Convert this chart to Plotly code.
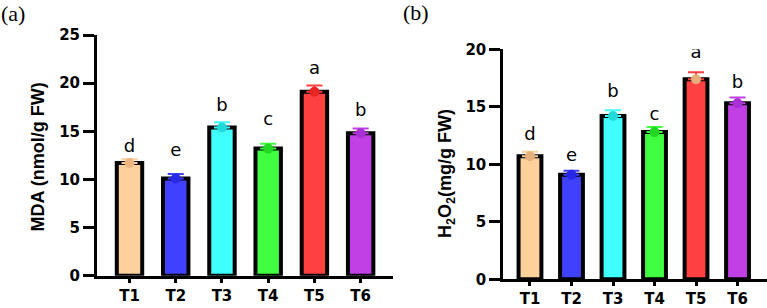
import plotly.graph_objects as go

W, H = 767, 308

categories = ["T1", "T2", "T3", "T4", "T5", "T6"]

mda_values = [11.7, 10.1, 15.4, 13.2, 19.1, 14.8]
mda_errors = [0.4, 0.45, 0.55, 0.5, 0.65, 0.5]
mda_letters = ["d", "e", "b", "c", "a", "b"]
mda_letter_y = [13.3, 12.9, 17.6, 16.1, 21.4, 17.1]

h2o2_values = [10.7, 9.1, 14.2, 12.8, 17.4, 15.3]
h2o2_errors = [0.4, 0.35, 0.5, 0.45, 0.6, 0.5]
h2o2_letters = ["d", "e", "b", "c", "a", "b"]
h2o2_letter_y = [12.5, 10.65, 16.2, 14.25, 19.6, 17.0]

mda_ticks = [0, 5, 10, 15, 20, 25]
h2o2_ticks = [0, 5, 10, 15, 20]

bar_colors = ["#FDD09C", "#4040FF", "#40FFFF", "#40FF40", "#FF4040", "#C040E6"]
dot_colors_a = ["#EDB47E", "#2828E6", "#22DADA", "#22D822", "#E82424", "#A830D6"]
dot_colors_b = ["#E6B07C", "#2828E6", "#22DADA", "#22D822", "#E6AE7C", "#A830D6"]

FONT = "DejaVu Sans"
TITLE_FONT = "Liberation Sans"
SERIF = "Liberation Serif"

fig = go.Figure()


def add_panel(values, errors, letters, letter_y, dots, xa, ya):
    for i, c in enumerate(categories):
        fig.add_trace(go.Bar(
            x=[c], y=[values[i]], width=0.55,
            marker=dict(color=bar_colors[i], line=dict(color="black", width=4)),
            error_y=dict(type="data", array=[errors[i]], arrayminus=[0], symmetric=False,
                         color=bar_colors[i], thickness=2, width=8),
            xaxis=xa, yaxis=ya, showlegend=False, hoverinfo="skip",
        ))
    fig.add_trace(go.Scatter(
        x=categories, y=values, mode="markers",
        marker=dict(color=dots, size=10, line=dict(width=0)),
        xaxis=xa, yaxis=ya, showlegend=False, hoverinfo="skip",
    ))
    fig.add_trace(go.Scatter(
        x=categories, y=letter_y, mode="text", text=letters,
        textposition="middle center",
        textfont=dict(family=FONT, size=18, color="black"),
        xaxis=xa, yaxis=ya, showlegend=False, hoverinfo="skip",
    ))


add_panel(mda_values, mda_errors, mda_letters, mda_letter_y, dot_colors_a, "x", "y")
add_panel(h2o2_values, h2o2_errors, h2o2_letters, h2o2_letter_y, dot_colors_b, "x2", "y2")

axis_common = dict(showline=True, linecolor="black", linewidth=3, showgrid=False,
                   zeroline=False, ticks="outside", tickcolor="black", tickwidth=3,
                   automargin=False)
xtickfont = dict(family=FONT, size=15, color="black", weight="bold")
ytickfont = dict(family=FONT, size=15, color="black", weight="bold")

fig.update_layout(
    width=W, height=H,
    margin=dict(l=0, r=0, t=0, b=0, pad=0, autoexpand=False),
    paper_bgcolor="white", plot_bgcolor="white",
    barmode="overlay",
    xaxis=dict(domain=[97 / W, 393 / W], anchor="y", type="category",
               categoryorder="array", categoryarray=categories,
               range=[-0.703, 5.70], ticklen=4, tickfont=xtickfont, **axis_common),
    yaxis=dict(domain=[32.3 / H, 273 / H], anchor="x", range=[0, 25],
               tickvals=mda_ticks, ticklen=11, tickfont=ytickfont, **axis_common),
    xaxis2=dict(domain=[503.3 / W, 1.0], anchor="y2", type="category",
                categoryorder="array", categoryarray=categories,
                range=[-0.643, 5.71], ticklen=4, tickfont=xtickfont, **axis_common),
    yaxis2=dict(domain=[28.7 / H, 258.7 / H], anchor="x2", range=[0, 20],
                tickvals=h2o2_ticks, ticklen=11, tickfont=ytickfont, **axis_common),
    annotations=[
        dict(text="(a)", x=0, y=1 - 13 / H, xref="paper", yref="paper",
             xanchor="left", yanchor="middle", showarrow=False, borderpad=0,
             font=dict(family=SERIF, size=22, color="black")),
        dict(text="(b)", x=402 / W, y=1 - 12 / H, xref="paper", yref="paper",
             xanchor="left", yanchor="middle", showarrow=False, borderpad=0,
             font=dict(family=SERIF, size=22, color="black")),
        dict(text="<b>MDA (nmol/g FW)</b>", x=37.5 / W, y=1 - 157 / H, xref="paper", yref="paper",
             xanchor="center", yanchor="middle", textangle=-90, showarrow=False,
             font=dict(family=TITLE_FONT, size=18, color="black")),
        dict(text="<b>H<sub>2</sub>O<sub>2</sub>(mg/g FW)</b>", x=446 / W, y=1 - 174 / H,
             xref="paper", yref="paper",
             xanchor="center", yanchor="middle", textangle=-90, showarrow=False,
             font=dict(family=TITLE_FONT, size=18, color="black")),
    ],
)

fig.write_html("out.html", config={"displayModeBar": False},
               post_script="document.body.style.margin='0';document.body.style.overflow='hidden';")
